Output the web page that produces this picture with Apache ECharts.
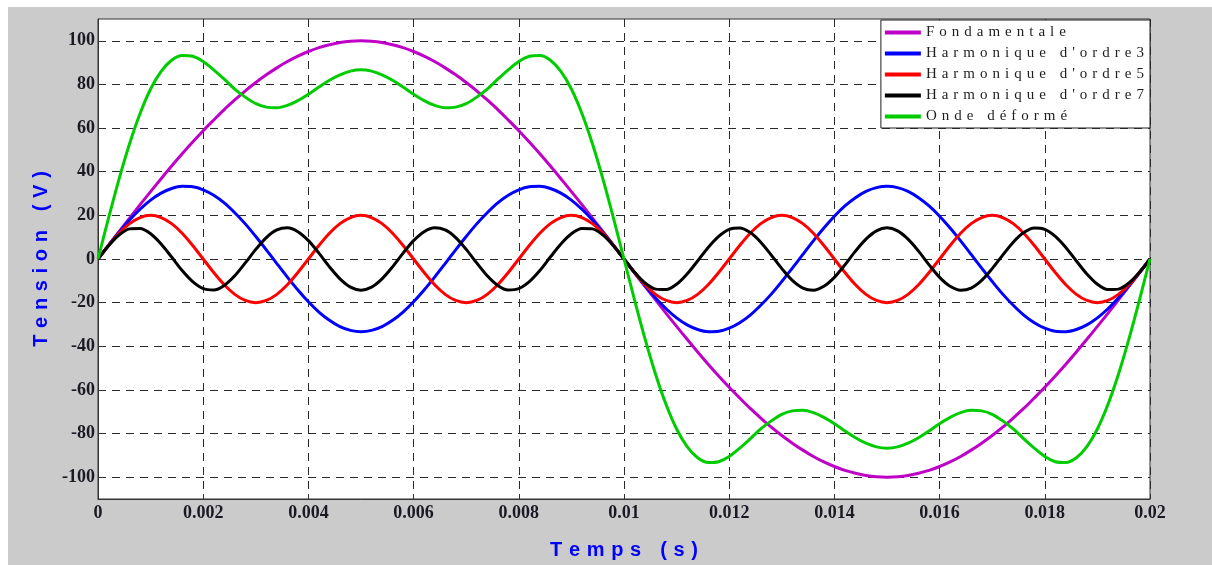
<!DOCTYPE html>
<html>
<head>
<meta charset="utf-8">
<title>Onde déformée</title>
<script src="https://cdn.jsdelivr.net/npm/echarts@6/dist/echarts.min.js"></script>
<style>
  body { margin: 0; background: #fff; }
  #fond { position: absolute; left: 8px; top: 7px; width: 1204px; height: 558px; background: #cbcbcb; }
  #main { position: absolute; left: 0; top: 0; width: 1212px; height: 565px; }
</style>
</head>
<body>
<div id="fond"></div>
<div id="main"></div>
<script>
// pas d'echantillonnage (s), une valeur toutes les 0.0002 s de 0 a 0.02
var pas = 0.0002;

var fondamentale = [0, 6.3, 12.5, 18.7, 24.9, 30.9, 36.8, 42.6, 48.2, 53.6, 58.8, 63.7, 68.5, 72.9, 77.1, 80.9, 84.4, 87.6, 90.5, 93.0, 95.1, 96.9, 98.2, 99.2, 99.8, 100,
  99.8, 99.2, 98.2, 96.9, 95.1, 93.0, 90.5, 87.6, 84.4, 80.9, 77.1, 72.9, 68.5, 63.7, 58.8, 53.6, 48.2, 42.6, 36.8, 30.9, 24.9, 18.7, 12.5, 6.3, 0,
  -6.3, -12.5, -18.7, -24.9, -30.9, -36.8, -42.6, -48.2, -53.6, -58.8, -63.7, -68.5, -72.9, -77.1, -80.9, -84.4, -87.6, -90.5, -93.0, -95.1, -96.9, -98.2, -99.2, -99.8, -100,
  -99.8, -99.2, -98.2, -96.9, -95.1, -93.0, -90.5, -87.6, -84.4, -80.9, -77.1, -72.9, -68.5, -63.7, -58.8, -53.6, -48.2, -42.6, -36.8, -30.9, -24.9, -18.7, -12.5, -6.3, 0];

var harmonique3 = [0, 6.2, 12.3, 17.9, 22.8, 27.0, 30.2, 32.3, 33.3, 33.1, 31.7, 29.2, 25.7, 21.2, 16.1, 10.3, 4.2, -2.1, -8.3, -14.2, -19.6, -24.3, -28.1, -31.0, -32.7, -33.3,
  -32.7, -31.0, -28.1, -24.3, -19.6, -14.2, -8.3, -2.1, 4.2, 10.3, 16.1, 21.2, 25.7, 29.2, 31.7, 33.1, 33.3, 32.3, 30.2, 27.0, 22.8, 17.9, 12.3, 6.2, 0,
  -6.2, -12.3, -17.9, -22.8, -27.0, -30.2, -32.3, -33.3, -33.1, -31.7, -29.2, -25.7, -21.2, -16.1, -10.3, -4.2, 2.1, 8.3, 14.2, 19.6, 24.3, 28.1, 31.0, 32.7, 33.3,
  32.7, 31.0, 28.1, 24.3, 19.6, 14.2, 8.3, 2.1, -4.2, -10.3, -16.1, -21.2, -25.7, -29.2, -31.7, -33.1, -33.3, -32.3, -30.2, -27.0, -22.8, -17.9, -12.3, -6.2, 0];

var harmonique5 = [0, 6.2, 11.8, 16.2, 19.0, 20, 19.0, 16.2, 11.8, 6.2, 0, -6.2, -11.8, -16.2, -19.0, -20, -19.0, -16.2, -11.8, -6.2, 0, 6.2, 11.8, 16.2, 19.0, 20,
  19.0, 16.2, 11.8, 6.2, 0, -6.2, -11.8, -16.2, -19.0, -20, -19.0, -16.2, -11.8, -6.2, 0, 6.2, 11.8, 16.2, 19.0, 20, 19.0, 16.2, 11.8, 6.2, 0,
  -6.2, -11.8, -16.2, -19.0, -20, -19.0, -16.2, -11.8, -6.2, 0, 6.2, 11.8, 16.2, 19.0, 20, 19.0, 16.2, 11.8, 6.2, 0, -6.2, -11.8, -16.2, -19.0, -20,
  -19.0, -16.2, -11.8, -6.2, 0, 6.2, 11.8, 16.2, 19.0, 20, 19.0, 16.2, 11.8, 6.2, 0, -6.2, -11.8, -16.2, -19.0, -20, -19.0, -16.2, -11.8, -6.2, 0];

var harmonique7 = [0, 6.1, 11.0, 13.8, 14.0, 11.6, 6.9, 0.9, -5.3, -10.4, -13.6, -14.2, -12.1, -7.7, -1.8, 4.4, 9.8, 13.3, 14.3, 12.5, 8.4, 2.7, -3.6, -9.1, -12.9, -14.3,
  -12.9, -9.1, -3.6, 2.7, 8.4, 12.5, 14.3, 13.3, 9.8, 4.4, -1.8, -7.7, -12.1, -14.2, -13.6, -10.4, -5.3, 0.9, 6.9, 11.6, 14.0, 13.8, 11.0, 6.1, 0,
  -6.1, -11.0, -13.8, -14.0, -11.6, -6.9, -0.9, 5.3, 10.4, 13.6, 14.2, 12.1, 7.7, 1.8, -4.4, -9.8, -13.3, -14.3, -12.5, -8.4, -2.7, 3.6, 9.1, 12.9, 14.3,
  12.9, 9.1, 3.6, -2.7, -8.4, -12.5, -14.3, -13.3, -9.8, -4.4, 1.8, 7.7, 12.1, 14.2, 13.6, 10.4, 5.3, -0.9, -6.9, -11.6, -14.0, -13.8, -11.0, -6.1, 0];

var ondeDeformee = [0, 18.7, 36.6, 52.8, 66.7, 77.9, 86.0, 91.1, 93.3, 92.9, 90.5, 86.7, 82.4, 77.9, 74.2, 71.2, 69.6, 69.3, 70.4, 72.6, 75.5, 78.8, 81.9, 84.4, 86.1, 86.7,
  86.1, 84.4, 81.9, 78.8, 75.5, 72.6, 70.4, 69.3, 69.6, 71.2, 74.2, 77.9, 82.4, 86.7, 90.5, 92.9, 93.3, 91.1, 86.0, 77.9, 66.7, 52.8, 36.6, 18.7, 0,
  -18.7, -36.6, -52.8, -66.7, -77.9, -86.0, -91.1, -93.3, -92.9, -90.5, -86.7, -82.4, -77.9, -74.2, -71.2, -69.6, -69.3, -70.4, -72.6, -75.5, -78.8, -81.9, -84.4, -86.1, -86.7,
  -86.1, -84.4, -81.9, -78.8, -75.5, -72.6, -70.4, -69.3, -69.6, -71.2, -74.2, -77.9, -82.4, -86.7, -90.5, -92.9, -93.3, -91.1, -86.0, -77.9, -66.7, -52.8, -36.6, -18.7, 0];

var nomsSeries = ['Fondamentale', "Harmonique d'ordre3", "Harmonique d'ordre5", "Harmonique d'ordre7", 'Onde déformé'];
var graduationsY = [-100, -80, -60, -40, -20, 0, 20, 40, 60, 80, 100];

var temps = fondamentale.map(function (v, k) { return +(k * pas).toFixed(4); });

var valeurs = [fondamentale, harmonique3, harmonique5, harmonique7, ondeDeformee];
var couleurs = ['#bf00c8', '#0000ff', '#ff0000', '#000000', '#00cc00'];

// espacement des lettres comme sur la figure matlab
function espace(s) { return s.split('').join('\u2004'); }

var myChart = echarts.init(document.getElementById('main'));

var tiret = { color: '#2a2a2a', width: 1, type: [8, 6] };

var option = {
  animation: false,
  grid: {
    left: 98, right: 62, top: 19, bottom: 66,
    show: true, backgroundColor: '#fff', borderColor: '#333', borderWidth: 1
  },
  legend: {
    orient: 'vertical',
    right: 62, top: 20,
    padding: [4, 6, 3, 4],
    backgroundColor: '#fff',
    borderColor: '#222', borderWidth: 1,
    icon: 'rect', itemWidth: 36, itemHeight: 4, itemGap: 4,
    data: nomsSeries,
    formatter: espace,
    textStyle: { fontFamily: 'Liberation Serif', fontSize: 15, color: '#1e1e1e', lineHeight: 17 }
  },
  xAxis: {
    type: 'value',
    min: 0, max: 0.02, interval: 0.002,
    name: espace('Temps (s)'),
    nameLocation: 'middle', nameGap: 41,
    nameTextStyle: { color: '#0000ff', fontFamily: 'Liberation Sans', fontWeight: 'bold', fontSize: 20 },
    axisLine: { onZero: false, lineStyle: { color: '#333' } },
    axisTick: { inside: true, length: 5, lineStyle: { color: '#333' } },
    axisLabel: {
      margin: 5, color: '#1a1a24', fontFamily: 'Liberation Serif', fontWeight: 'bold', fontSize: 18,
      formatter: function (v) { return String(parseFloat(v.toFixed(3))); }
    },
    splitLine: { show: true, lineStyle: tiret }
  },
  yAxis: {
    type: 'value',
    min: -110, max: 110,
    name: espace('Tension (V)'),
    nameLocation: 'middle', nameGap: 47,
    nameTextStyle: { color: '#0000ff', fontFamily: 'Liberation Sans', fontWeight: 'bold', fontSize: 20 },
    axisLine: { show: true, onZero: false, lineStyle: { color: '#333' } },
    axisTick: { show: true, inside: true, length: 5, customValues: graduationsY, lineStyle: { color: '#333' } },
    axisLabel: {
      margin: 3, customValues: graduationsY, color: '#1a1a24',
      fontFamily: 'Liberation Serif', fontWeight: 'bold', fontSize: 18
    },
    splitLine: { show: true, lineStyle: tiret }
  },
  series: nomsSeries.map(function (nom, i) {
    return {
      name: nom,
      type: 'line',
      showSymbol: false,
      smooth: 0.3,
      color: couleurs[i],
      lineStyle: { width: 3, color: couleurs[i] },
      data: temps.map(function (t, k) { return [t, valeurs[i][k]]; })
    };
  })
};

myChart.setOption(option);
</script>
</body>
</html>
